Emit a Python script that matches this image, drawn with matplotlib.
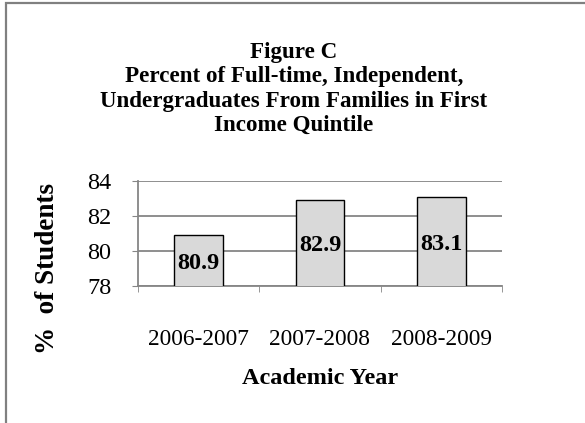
import numpy as np
import matplotlib
matplotlib.use("Agg")
import matplotlib.pyplot as plt
from matplotlib.patches import Rectangle

years = ["2006-2007", "2007-2008", "2008-2009"]
percent = [80.9, 82.9, 83.1]
y_ticks = [78, 80, 82, 84]

plt.rcParams['font.family'] = ['Liberation Serif', 'DejaVu Serif']

fig = plt.figure(figsize=(5.85, 4.23), dpi=100)

# outer frame: only top and left edges show in the reference
fig.add_artist(Rectangle((6 / 585, -0.2), 2.0, 0.2 + 1 - 3 / 423,
                         transform=fig.transFigure, fill=False,
                         edgecolor='#808080', linewidth=1.6))

ax = fig.add_axes([138 / 585, 1 - 286 / 423, 364 / 585, 105 / 423])

x = np.arange(len(years))
ax.bar(x, percent, width=0.4, bottom=0, color='#d9d9d9',
       edgecolor='black', linewidth=1.0, zorder=3)

ax.set_ylim(78, 84)
ax.set_xlim(-0.5, len(years) - 0.5)
ax.set_yticks(y_ticks)
ax.set_yticklabels([str(t) for t in y_ticks], fontsize=17.5)
ax.set_xticks(x)
ax.set_xticklabels(years, fontsize=16.8)
ax.set_xticks(np.arange(-0.5, len(years)), minor=True)

ax.tick_params(axis='x', which='major', length=0, pad=31)
ax.tick_params(axis='x', which='minor', length=4, color='#868686', direction='out')
ax.tick_params(axis='y', length=4, color='#868686', pad=15)

ax.grid(axis='y', color='#868686', linewidth=1.3, zorder=0)
for side in ['top', 'right']:
    ax.spines[side].set_visible(False)
for side in ['left', 'bottom']:
    ax.spines[side].set_color('#868686')
    ax.spines[side].set_linewidth(1.3)

# labels centred in each visible bar part
for xi, v in zip(x, percent):
    ax.annotate(f"{v:.1f}", (xi, (78 + v) / 2), xytext=(0, -2),
                textcoords='offset points', ha='center', va='center',
                fontsize=17.5, fontweight='bold', zorder=4)

fig.text(294 / 585, 1 - 89 / 423,
         "Figure C\nPercent of Full-time, Independent,\n"
         "Undergraduates From Families in First\nIncome Quintile",
         ha='center', va='center', fontsize=16.6, fontweight='bold',
         linespacing=1.2)

fig.text(320 / 585, 1 - 378 / 423, "Academic Year", ha='center', va='center',
         fontsize=17.5, fontweight='bold')
fig.text(48 / 585, 1 - 268 / 423, "%  of Students", ha='center', va='center',
         rotation=90, fontsize=19.5, fontweight='bold')

fig.savefig("out.png", dpi=100)
